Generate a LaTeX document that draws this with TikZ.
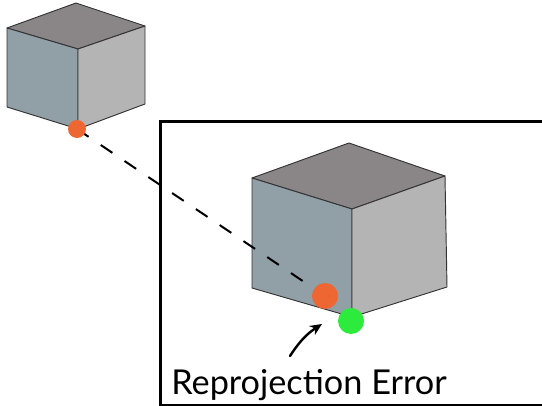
\documentclass[tikz,border=0pt]{standalone}
\usepackage{fontspec}
\setmainfont{Lato}
\usetikzlibrary{arrows.meta,calc}
\definecolor{faceleft}{HTML}{919FA7}
\definecolor{faceright}{HTML}{B4B4B4}
\definecolor{facetop}{HTML}{8A8687}
\definecolor{projdot}{HTML}{EE6631}
\definecolor{truedot}{HTML}{2DEB3D}
\tikzset{
  cubeedge/.style={draw=black!80, line width=0.7pt, line join=round},
  dotmark/.style={circle, inner sep=0pt, minimum size=#1},
  raydash/.style={line width=1.5pt, dash pattern=on 10.5pt off 11pt},
  pointer/.style={line width=1.8pt, -{Stealth[length=9pt,width=8pt]}, line cap=round},
}
% draws an isometric cube from its seven visible corners
\newcommand{\isocube}[7]{%
  \path[cubeedge, fill=facetop] #1 -- #2 -- #3 -- #4 -- cycle;
  \path[cubeedge, fill=faceleft] #2 -- #3 -- #6 -- #5 -- cycle;
  \path[cubeedge, fill=faceright] #3 -- #4 -- #7 -- #6 -- cycle;
}
\begin{document}
\begin{tikzpicture}[x=0.75pt, y=-0.75pt]
\useasboundingbox (0,0) rectangle (542,406);
% zoomed view frame
\draw[line width=2.25pt] (160.8,560) -- (160.8,121.8) -- (560,121.8);
\draw[line width=2.25pt] (160.8,405) -- (560,405);
% small cube
\isocube{(76,3)}{(7,28)}{(78,49)}{(145,26)}{(7,107)}{(78,129)}{(145,104)}
% large cube
\isocube{(349,143)}{(252,178)}{(352,209)}{(445,176)}{(252,288)}{(352,317)}{(447,287)}
% projection ray between the two projected corners
\coordinate (ra) at (77,129);
\coordinate (rb) at (325,296);
\draw[raydash] (ra) -- ($(rb)!14pt!(ra)$);
\node[dotmark=13.5pt, fill=projdot] (p1) at (ra) {};
\node[dotmark=19.5pt, fill=projdot] (p2) at (rb) {};
\node[dotmark=19.5pt, fill=truedot] (g) at (351,321) {};
% label and pointer
\node[anchor=base west, inner sep=0pt, font=\fontsize{25.7}{30}\selectfont] (lbl) at (171,394) {Reprojection Error};
\coordinate (tail) at (290,356);
\coordinate (tip) at (322,324);
\draw[pointer] (tail) to[bend left=12] (tip);
\end{tikzpicture}
\end{document}
